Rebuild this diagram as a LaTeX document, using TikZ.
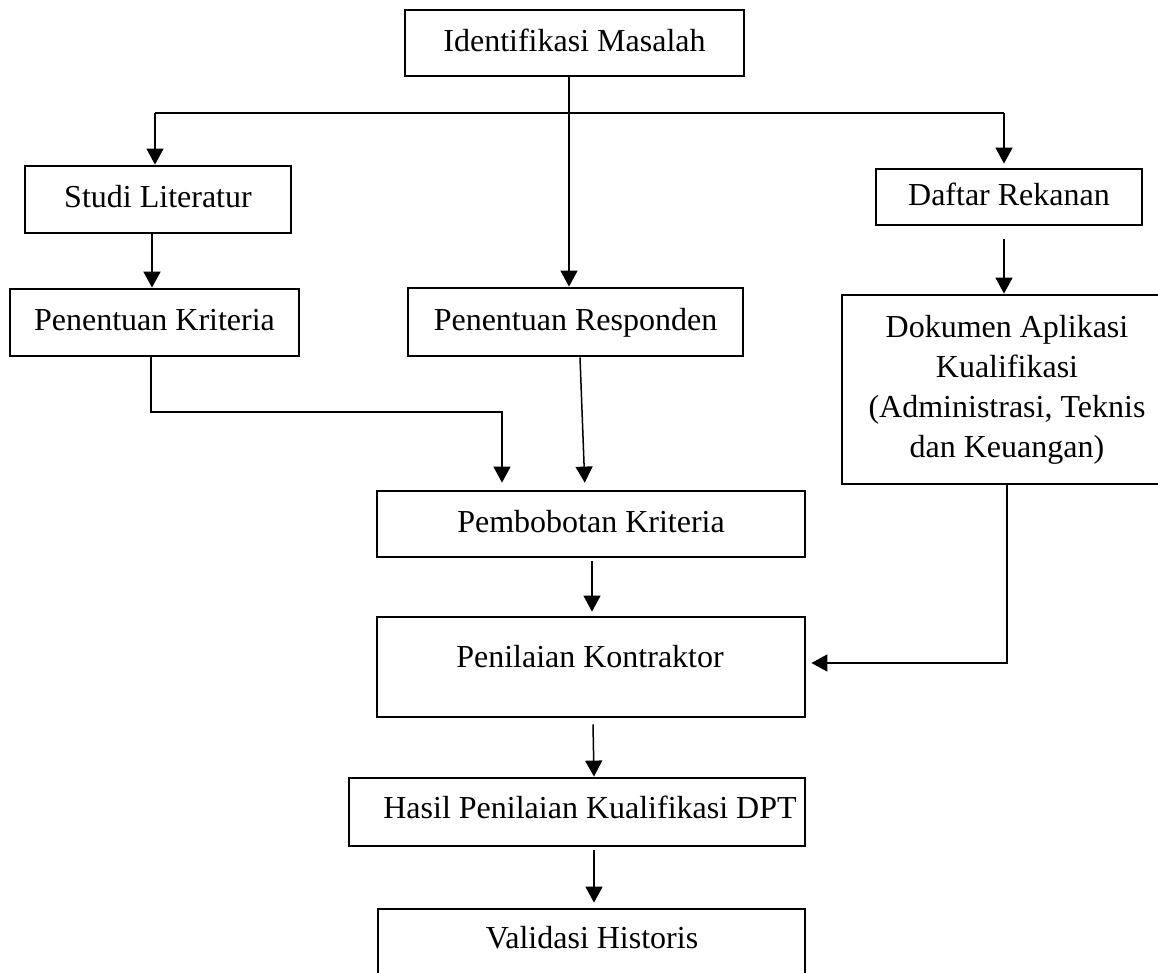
\documentclass[tikz,border=0pt]{standalone}
\usepackage{fontspec}
\setmainfont{Liberation Serif}
\usetikzlibrary{arrows.meta}
\begin{document}
\begin{tikzpicture}[x=0.5pt,y=-0.5pt,
  box/.style={draw, line width=1.4pt, inner sep=0pt, anchor=center,
    font=\fontsize{16}{20}\selectfont},
  tbox/.style={box, text height=11pt, text depth=2.5pt},
  lbl/.style={inner sep=0pt, anchor=base, font=\fontsize{16}{20}\selectfont},
  conn/.style={line width=0.75pt},
  arr/.style={conn, -{Triangle[width=8.5pt,length=8pt]}}]
\useasboundingbox (0,0) rectangle (1158,973);

% boxes
\node[tbox, minimum width=169.5pt, minimum height=33pt] (ident) at (574.5,43) {Identifikasi Masalah};
\node[tbox, minimum width=133pt, minimum height=33.5pt] (studi) at (158,199.5) {Studi Literatur};
\node[tbox, minimum width=133pt, minimum height=28pt] (daftar) at (1009,197) {Daftar Rekanan};
\node[tbox, minimum width=144.5pt, minimum height=33.5pt] (kriteria) at (154.5,322.5) {Penentuan Kriteria};
\node[tbox, minimum width=167.5pt, minimum height=34pt] (responden) at (575.5,322) {Penentuan Responden};
\node[box, align=center, minimum width=165pt, minimum height=94.5pt] (dokumen) at (1007,389.5)
  {Dokumen Aplikasi\\Kualifikasi\\(Administrasi, Teknis\\dan Keuangan)};
\node[tbox, minimum width=214pt, minimum height=33pt] (pembobotan) at (591,524) {Pembobotan Kriteria};
\node[box, minimum width=214pt, minimum height=50pt] (penilaian) at (591,667) {};
\node[lbl] (penilaianlbl) at (590,667) {Penilaian Kontraktor};
\node[box, minimum width=228pt, minimum height=34pt] (hasil) at (577,812) {};
\node[lbl] (hasillbl) at (590,818) {Hasil Penilaian Kualifikasi DPT};
\node[box, minimum width=213.5pt, minimum height=43pt] (validasi) at (591.5,952) {};
\node[lbl] (validasilbl) at (592,948) {Validasi Historis};

% helper coordinates
\coordinate (c1) at (569,113);
\coordinate (cL) at (155,113);
\coordinate (cR) at (1004,113);
\coordinate (k1) at (151,412);
\coordinate (k2) at (502,412);
\coordinate (r1) at (580,0);
\coordinate (r2) at (585,0);
\coordinate (p1) at (592,0);
\coordinate (p2) at (593,0);
\coordinate (p3) at (594,0);
\coordinate (d0) at (1003,0);
\coordinate (d1) at (1007,663);

% connectors
\draw[arr] (ident.south -| c1) -- (responden.north -| c1);
\draw[conn] (cL) -- (cR);
\draw[arr] (cL) -- (cL |- studi.north);
\draw[arr, shorten >=2pt] (cR) -- (cR |- daftar.north);
\draw[arr] ([xshift=-3pt]studi.south) -- ([xshift=-3pt]studi.south |- kriteria.north);
\draw[arr] ([xshift=-2.5pt,yshift=-6.5pt]daftar.south) -- ([xshift=-2.5pt]daftar.south |- dokumen.north);
\draw[arr, shorten >=3.5pt] (kriteria.south -| k1) -- (k1) -- (k2) -- (k2 |- pembobotan.north);
\draw[arr, shorten >=3.5pt] (responden.south -| r1) -- (pembobotan.north -| r2);
\draw[arr, shorten >=2pt] ([yshift=-1.5pt]pembobotan.south -| p1) -- (penilaian.north -| p1);
\draw[arr] ([yshift=-3pt]penilaian.south -| p2) -- (hasil.north -| p3);
\draw[arr, shorten >=2.5pt] ([yshift=-1.5pt]hasil.south -| p3) -- (validasi.north -| p3);
\draw[arr, shorten >=2.5pt] ([yshift=1pt]dokumen.south -| d0) -- ([yshift=1pt]dokumen.south -| d1) -- (d1) -- (d1 -| penilaian.east);
\end{tikzpicture}
\end{document}
